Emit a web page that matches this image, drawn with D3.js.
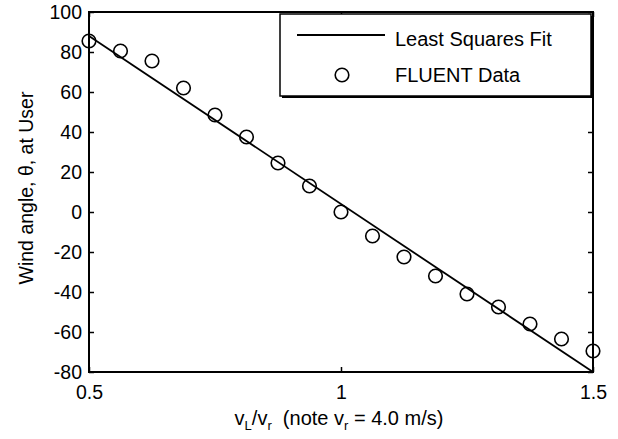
<!DOCTYPE html>
<html>
<head>
<meta charset="utf-8">
<script src="https://cdn.jsdelivr.net/npm/d3@7"></script>
<style>
  body { margin: 0; background: #fff; }
  svg { display: block; font-family: "Liberation Sans", Arial, sans-serif; }
</style>
</head>
<body>
<svg width="618" height="439"></svg>
<script>
// FLUENT data points
var ratio = [0.5, 0.5625, 0.625, 0.6875, 0.75, 0.8125, 0.875, 0.9375, 1.0,
             1.0625, 1.125, 1.1875, 1.25, 1.3125, 1.375, 1.4375, 1.5];
var angle = [85.5, 80.5, 75.5, 62, 48.5, 37.5, 24.5, 13, 0,
             -12, -22.5, -32, -41, -47.5, -56, -63.5, -69.5];

// least squares fit end points
var fitX = [0.5, 1.5];
var fitY = [88, -80];

var xTicks = [0.5, 1, 1.5];
var yTicks = [-80, -60, -40, -20, 0, 20, 40, 60, 80, 100];

var svg = d3.select("svg"),
    margin = { top: 12, right: 25, bottom: 67, left: 89 },
    width = +svg.attr("width") - margin.left - margin.right,
    height = +svg.attr("height") - margin.top - margin.bottom;

var x = d3.scaleLinear().domain([0.5, 1.5]).range([0, width]),
    y = d3.scaleLinear().domain([-80, 100]).range([height, 0]);

var g = svg.append("g")
    .attr("transform", "translate(" + margin.left + "," + margin.top + ")");

var fmt = function (d) { return String(d); };

g.append("g")
    .attr("transform", "translate(0," + height + ")")
    .call(d3.axisBottom(x).tickValues(xTicks).tickSize(-5).tickPadding(13).tickFormat(fmt));
g.append("g")
    .call(d3.axisTop(x).tickValues(xTicks).tickSize(-5).tickFormat(""));
g.append("g")
    .call(d3.axisLeft(y).tickValues(yTicks).tickSize(-5).tickPadding(7).tickFormat(fmt));
g.append("g")
    .attr("transform", "translate(" + width + ",0)")
    .call(d3.axisRight(y).tickValues(yTicks).tickSize(-5).tickFormat(""));

g.selectAll(".domain").remove();
g.selectAll(".tick line").attr("stroke", "#000").attr("stroke-width", 1.5);
g.selectAll(".tick text").attr("fill", "#000").style("font-size", "19.5px");

g.append("rect")
    .attr("width", width)
    .attr("height", height)
    .attr("fill", "none")
    .attr("stroke", "#000")
    .attr("stroke-width", 2);

// fit line
var line = d3.line()
    .x(function (d) { return x(d[0]); })
    .y(function (d) { return y(d[1]); });

g.append("path")
    .datum(d3.zip(fitX, fitY))
    .attr("d", line)
    .attr("fill", "none")
    .attr("stroke", "#000")
    .attr("stroke-width", 1.8);

g.selectAll(".pt")
    .data(d3.zip(ratio, angle))
    .enter().append("circle")
    .attr("class", "pt")
    .attr("cx", function (d) { return x(d[0]); })
    .attr("cy", function (d) { return y(d[1]); })
    .attr("r", 6.8)
    .attr("fill", "none")
    .attr("stroke", "#000")
    .attr("stroke-width", 1.6);

// legend
var lg = svg.append("g").attr("transform", "translate(280,14)");
lg.append("rect")
    .attr("x", 2).attr("y", 2)
    .attr("width", 312).attr("height", 82)
    .attr("fill", "#000");
lg.append("rect")
    .attr("width", 311).attr("height", 82)
    .attr("fill", "#fff")
    .attr("stroke", "#000")
    .attr("stroke-width", 1.5);
lg.append("line")
    .attr("x1", 17).attr("x2", 105)
    .attr("y1", 21).attr("y2", 21)
    .attr("stroke", "#000").attr("stroke-width", 1.8);
lg.append("text")
    .attr("x", 115).attr("y", 32)
    .style("font-size", "20px")
    .text("Least Squares Fit");
lg.append("circle")
    .attr("cx", 62).attr("cy", 61).attr("r", 6.8)
    .attr("fill", "none").attr("stroke", "#000").attr("stroke-width", 1.6);
lg.append("text")
    .attr("x", 115).attr("y", 68)
    .style("font-size", "20px")
    .text("FLUENT Data");

// axis labels
var xl = svg.append("text")
    .attr("x", margin.left + width / 2 - 2)
    .attr("y", 425)
    .attr("text-anchor", "middle")
    .style("font-size", "20px");
xl.append("tspan").text("v");
xl.append("tspan").attr("dy", 5).style("font-size", "13px").text("L");
xl.append("tspan").attr("dy", -5).text("/v");
xl.append("tspan").attr("dy", 5).style("font-size", "13px").text("r");
xl.append("tspan").attr("dy", -5).attr("xml:space", "preserve").text("  (note v");
xl.append("tspan").attr("dy", 5).style("font-size", "13px").text("r");
xl.append("tspan").attr("dy", -5).attr("xml:space", "preserve").text(" = 4.0 m/s)");

svg.append("text")
    .attr("transform", "translate(33," + (margin.top + height / 2 - 4) + ") rotate(-90)")
    .attr("text-anchor", "middle")
    .style("font-size", "19.5px")
    .text("Wind angle, \u03b8, at User");
</script>
</body>
</html>
